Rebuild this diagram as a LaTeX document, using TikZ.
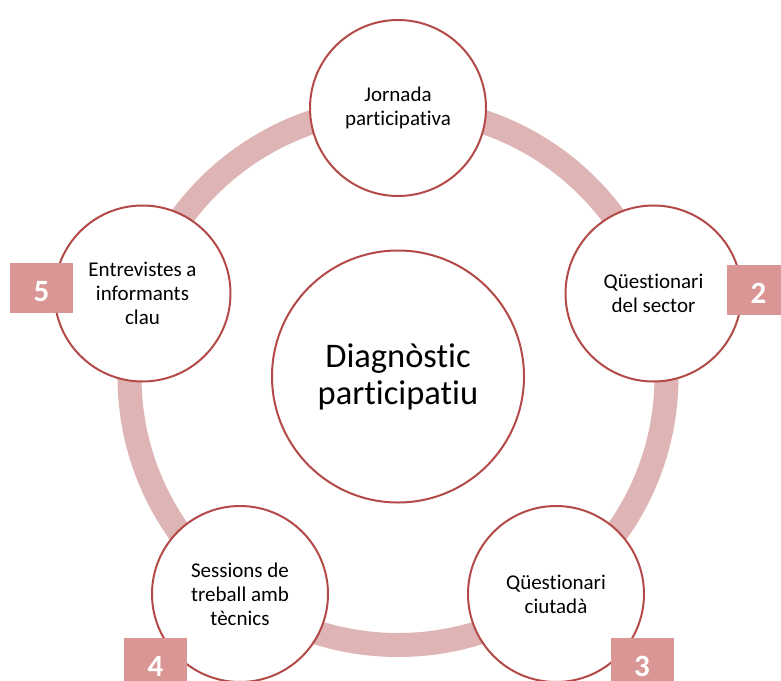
\documentclass[tikz,border=0pt]{standalone}
\usepackage{fontspec}
\setmainfont{Carlito}[Ligatures=NoCommon]
\usepackage{tikz}
\usepackage{xcolor}
\definecolor{EdgeRed}{HTML}{B34A48}
\definecolor{RingRed}{HTML}{DFB4B4}
\definecolor{BoxRed}{HTML}{D99694}
\newcommand\nodedp{Diagnòstic\\participatiu}
\newcommand\nodejp{Jornada\\participativa}
\newcommand\nodeqs{Qüestionari\\del sector}
\newcommand\nodeqc{Qüestionari\\ciutadà}
\newcommand\nodest{Sessions de\\treball amb\\tècnics}
\newcommand\nodeei{Entrevistes a\\informants\\clau}
\tikzstyle{mycircle} = [circle, draw=EdgeRed, fill=white, line width=2pt, text=black, align=center, inner sep=0pt]
\tikzstyle{sn} = [mycircle, minimum size=176pt, font=\fontsize{21}{24}\selectfont]
\tikzstyle{cn} = [mycircle, minimum size=252pt, font=\fontsize{34.5}{37}\selectfont]
\tikzstyle{nb} = [rectangle, fill=BoxRed, minimum width=63pt, minimum height=50pt, inner sep=0pt, text height=27pt, text depth=0pt, text=white, font=\fontsize{31}{36}\selectfont\bfseries]
\tikzstyle{ring} = [draw=RingRed, line width=24pt]
\tikzset{x=1pt, y=-1pt}

\begin{document}
\begin{tikzpicture}
\useasboundingbox (0, 0) rectangle (781, 680);
\clip (0, 0) rectangle (781, 680);
\node[cn] (dp) at (398, 376.5) {\nodedp};
\draw[ring] (dp) circle (268.5pt);
\node[sn] (jp) at (398, 108) {\nodejp};
\node[sn] (qs) at (653.5, 293.5) {\nodeqs};
\node[sn] (qc) at (556, 594) {\nodeqc};
\node[sn] (st) at (240, 594) {\nodest};
\node[sn] (ei) at (142.5, 293.5) {\nodeei};
\node[nb] (n2) at (758.5, 289.5) {2};
\node[nb] (n3) at (642, 663) {3};
\node[nb] (n4) at (155.5, 663) {4};
\node[nb] (n5) at (41.5, 288) {5};
\end{tikzpicture}
\end{document}
